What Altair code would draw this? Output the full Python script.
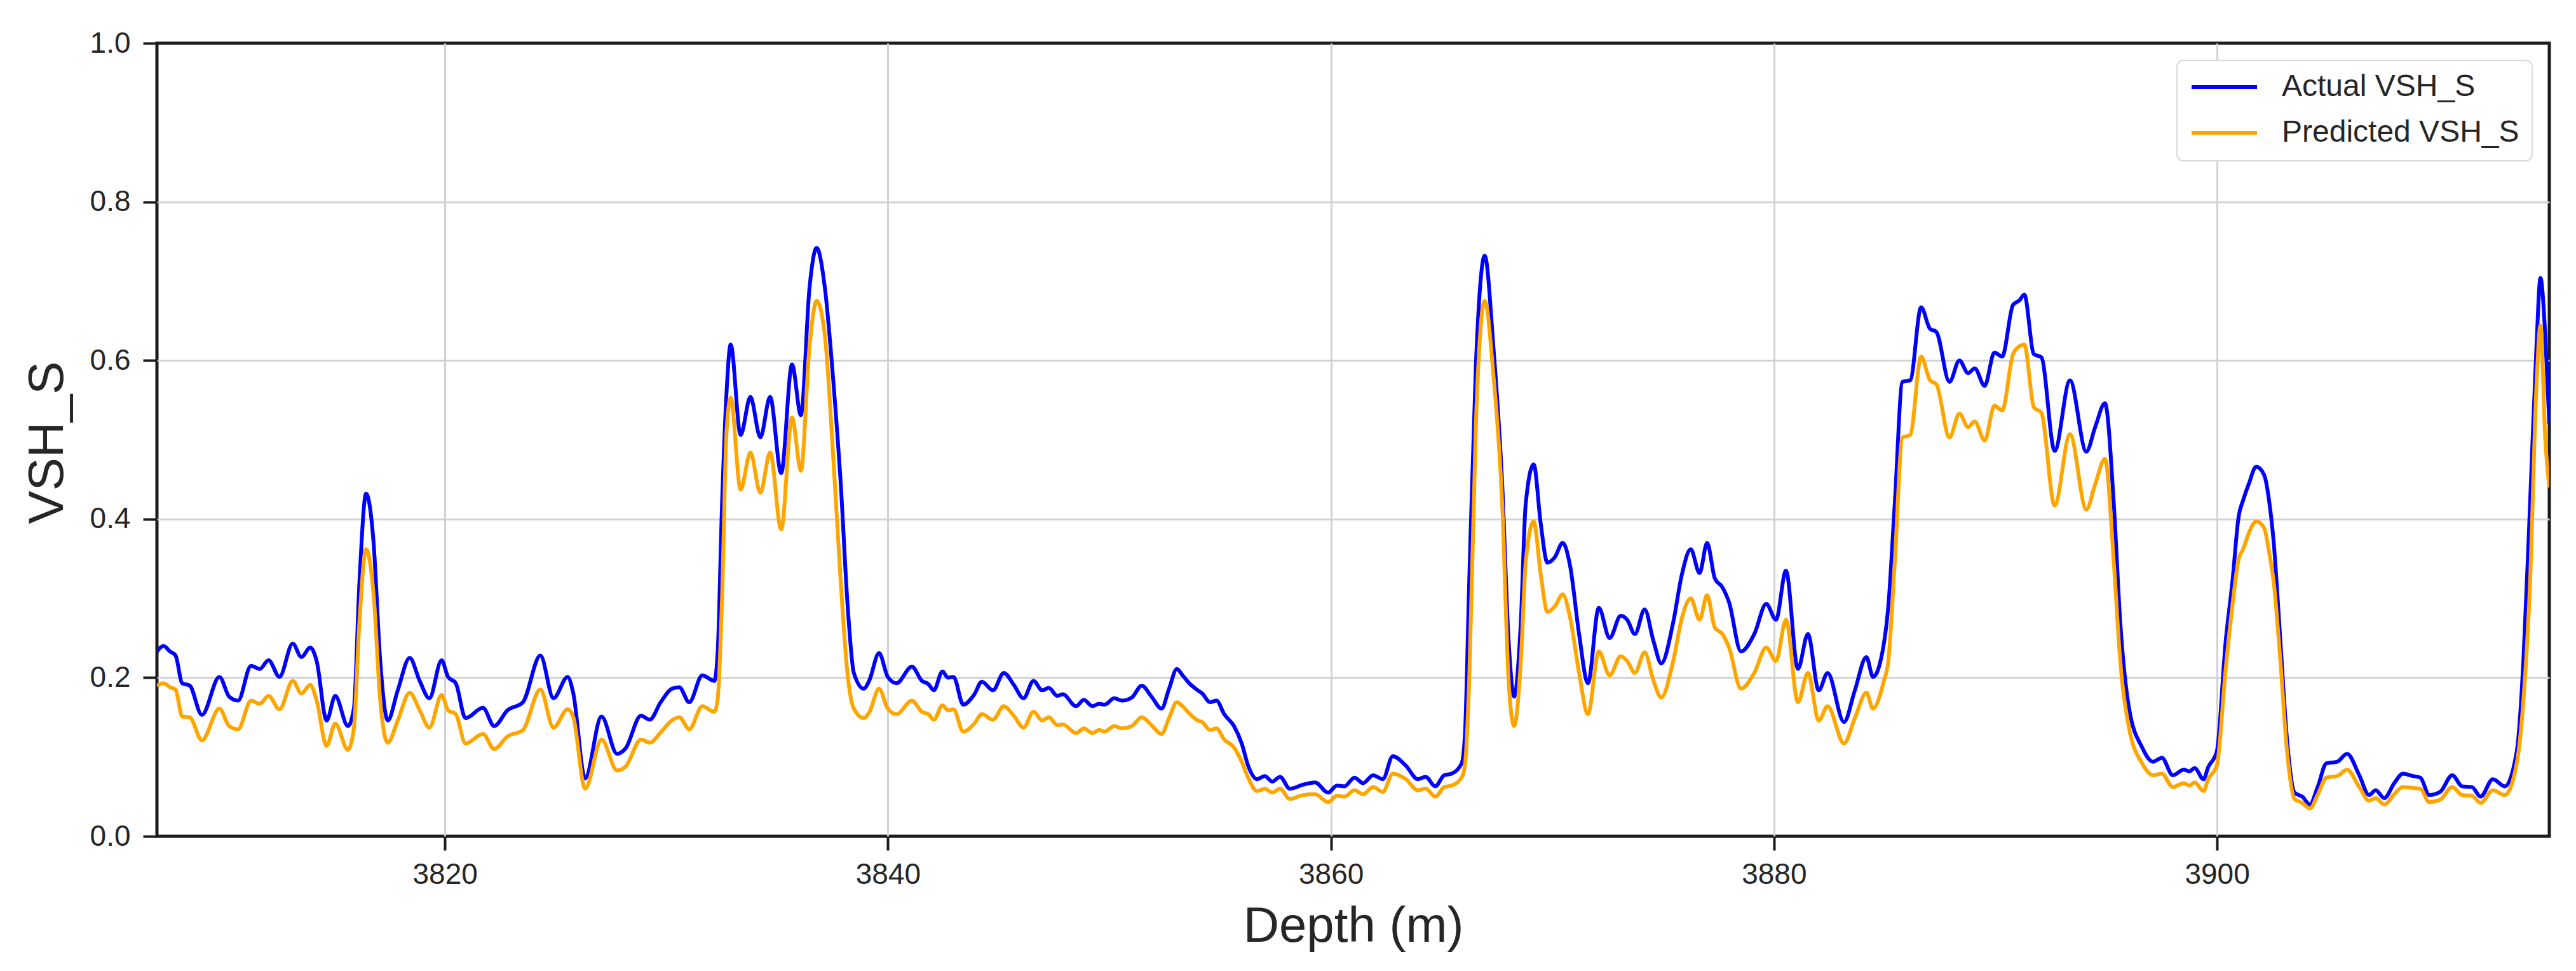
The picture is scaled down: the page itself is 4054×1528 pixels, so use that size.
import altair as alt
import pandas as pd

depth = [
    3807.00, 3807.30, 3807.59, 3807.84, 3808.14, 3808.48, 3809.03, 3809.82, 3810.26, 3810.66,
    3811.25, 3811.64, 3812.04, 3812.53, 3813.13, 3813.52, 3813.92, 3814.21, 3814.66, 3815.05,
    3815.62, 3815.89, 3816.14, 3816.44, 3816.78, 3817.08, 3817.42, 3817.87, 3818.41, 3818.86,
    3819.30, 3819.85, 3820.14, 3820.49, 3820.93, 3821.72, 3822.22,
    3822.83, 3823.52, 3824.31, 3824.90, 3825.54, 3825.79, 3826.33, 3827.07, 3827.77, 3828.16,
    3828.85, 3829.25, 3829.74, 3830.24, 3830.58, 3831.03, 3831.62, 3832.16, 3832.31, 3832.51,
    3832.71, 3832.90, 3833.35, 3833.79, 3834.24, 3834.68, 3835.18, 3835.67, 3836.07, 3836.46,
    3836.78, 3837.15, 3837.55,
    3837.87, 3838.17, 3838.46, 3838.91, 3839.15, 3839.60, 3839.99, 3840.39, 3841.08, 3841.53,
    3841.82, 3842.07, 3842.46, 3842.71, 3842.96, 3843.40, 3843.90, 3844.24, 3844.74, 3845.23,
    3845.68, 3846.12, 3846.57, 3846.96, 3847.26, 3847.65, 3847.90, 3848.49, 3848.84, 3849.23,
    3849.53, 3849.78, 3850.22, 3850.57, 3851.01, 3851.46, 3851.90, 3852.35, 3852.69, 3853.04,
    3853.30, 3853.60, 3853.99, 3854.19, 3854.54, 3854.83, 3855.18, 3855.62, 3855.97, 3856.26,
    3856.66, 3857.01, 3857.35, 3857.70, 3858.14, 3858.73, 3859.28, 3859.87, 3860.27, 3860.61,
    3861.06, 3861.45, 3861.90, 3862.34, 3862.79, 3863.38, 3863.92, 3864.27, 3864.71, 3865.11,
    3865.45, 3865.90, 3866.05, 3866.24, 3866.54, 3866.94, 3867.33, 3867.73, 3868.02, 3868.27,
    3868.57, 3868.79,
    3869.15, 3869.47, 3869.77, 3870.11, 3870.46, 3870.80, 3871.20, 3871.60, 3872.09, 3872.58,
    3873.08, 3873.37, 3873.72, 3874.16, 3874.56, 3874.91, 3875.45, 3875.84, 3876.24, 3876.64,
    3876.98, 3877.33, 3877.67, 3877.97, 3878.51, 3879.11, 3879.65, 3880.09, 3880.54, 3881.08,
    3881.53, 3882.02, 3882.42, 3883.16, 3883.65,
    3884.17, 3884.47, 3884.96, 3885.16, 3885.45, 3885.80, 3886.15, 3886.64, 3887.04, 3887.33,
    3887.92, 3888.37, 3888.76, 3889.06, 3889.51, 3889.95, 3890.30, 3890.79, 3891.09, 3891.30,
    3891.73, 3892.07, 3892.67, 3893.36, 3894.10, 3894.50, 3894.94, 3895.34, 3895.63, 3896.03,
    3896.62, 3897.11, 3897.51, 3898.00, 3898.50, 3898.75, 3898.99, 3899.39,
    3899.60, 3899.99, 3900.39, 3900.69, 3900.98, 3901.18, 3901.43, 3901.77, 3902.12, 3902.37,
    3902.56, 3902.86, 3903.16, 3903.50, 3903.85, 3904.19, 3904.54, 3904.94, 3905.43, 3905.87,
    3906.42, 3906.86, 3907.16, 3907.55, 3908.00, 3908.39, 3908.84, 3909.18, 3909.58, 3910.07,
    3910.62, 3911.06, 3911.51, 3911.90, 3912.45, 3912.99, 3913.53, 3913.83, 3914.13, 3914.42,
    3914.60, 3914.82, 3915.00,
]

actual = [
    0.233, 0.240, 0.233, 0.228, 0.193, 0.190, 0.153, 0.201, 0.176, 0.171,
    0.215, 0.211, 0.222, 0.201, 0.243, 0.226, 0.238, 0.221, 0.146, 0.177,
    0.139, 0.161, 0.320, 0.432, 0.370, 0.221, 0.146, 0.184, 0.225, 0.196,
    0.174, 0.222, 0.201, 0.193, 0.149, 0.162, 0.139,
    0.159, 0.169, 0.228, 0.174, 0.201, 0.181, 0.073, 0.151, 0.104, 0.111,
    0.152, 0.147, 0.169, 0.186, 0.188, 0.169, 0.203, 0.196, 0.230, 0.419,
    0.558, 0.620, 0.506, 0.554, 0.503, 0.554, 0.458, 0.595, 0.531, 0.692,
    0.742, 0.692, 0.568,
    0.444, 0.295, 0.206, 0.186, 0.196, 0.231, 0.201, 0.193, 0.214, 0.196,
    0.192, 0.184, 0.208, 0.200, 0.201, 0.166, 0.179, 0.195, 0.184, 0.206,
    0.191, 0.174, 0.196, 0.184, 0.187, 0.177, 0.179, 0.164, 0.172, 0.164,
    0.167, 0.166, 0.174, 0.171, 0.175, 0.190, 0.176, 0.161, 0.186, 0.211,
    0.203, 0.193, 0.184, 0.180, 0.169, 0.171, 0.154, 0.139, 0.117, 0.089,
    0.072, 0.076, 0.069, 0.075, 0.060, 0.065, 0.068, 0.055, 0.064, 0.063,
    0.074, 0.067, 0.077, 0.072, 0.101, 0.089, 0.072, 0.075, 0.063, 0.077,
    0.079, 0.092, 0.130, 0.320, 0.593, 0.732, 0.618, 0.444, 0.246, 0.176,
    0.270, 0.419,
    0.469, 0.394, 0.345, 0.352, 0.370, 0.340, 0.255, 0.193, 0.288, 0.250,
    0.278, 0.273, 0.255, 0.286, 0.246, 0.218, 0.270, 0.330, 0.362, 0.332,
    0.370, 0.325, 0.314, 0.295, 0.233, 0.255, 0.293, 0.273, 0.335, 0.211,
    0.255, 0.184, 0.206, 0.144, 0.184,
    0.226, 0.201, 0.243, 0.290, 0.419, 0.573, 0.575, 0.667, 0.640, 0.636,
    0.573, 0.600, 0.584, 0.590, 0.568, 0.610, 0.605, 0.670, 0.676, 0.683,
    0.608, 0.604, 0.486, 0.575, 0.485, 0.516, 0.546, 0.419, 0.270, 0.161,
    0.112, 0.094, 0.099, 0.077, 0.084, 0.082, 0.086, 0.072,
    0.087, 0.107, 0.246, 0.320, 0.404, 0.424, 0.444, 0.466, 0.456, 0.419,
    0.370, 0.246, 0.122, 0.055, 0.050, 0.040, 0.062, 0.092, 0.094, 0.104,
    0.077, 0.052, 0.058, 0.048, 0.067, 0.079, 0.076, 0.074, 0.052, 0.056,
    0.077, 0.063, 0.062, 0.050, 0.072, 0.063, 0.107, 0.221, 0.419, 0.618,
    0.704, 0.630, 0.520,
]

predicted = [
    0.190, 0.193, 0.188, 0.185, 0.151, 0.150, 0.121, 0.161, 0.139, 0.135,
    0.171, 0.167, 0.177, 0.160, 0.196, 0.180, 0.191, 0.171, 0.114, 0.142,
    0.109, 0.136, 0.270, 0.362, 0.305, 0.171, 0.118, 0.146, 0.181, 0.159,
    0.137, 0.178, 0.159, 0.154, 0.117, 0.129, 0.110,
    0.126, 0.134, 0.185, 0.137, 0.160, 0.151, 0.060, 0.122, 0.083, 0.088,
    0.122, 0.118, 0.131, 0.146, 0.150, 0.135, 0.164, 0.157, 0.172, 0.300,
    0.508, 0.553, 0.437, 0.484, 0.433, 0.484, 0.387, 0.528, 0.461, 0.618,
    0.675, 0.632, 0.469,
    0.320, 0.206, 0.161, 0.149, 0.156, 0.186, 0.161, 0.154, 0.171, 0.157,
    0.154, 0.147, 0.165, 0.159, 0.160, 0.132, 0.142, 0.154, 0.147, 0.164,
    0.152, 0.137, 0.157, 0.146, 0.150, 0.140, 0.141, 0.130, 0.136, 0.130,
    0.134, 0.132, 0.139, 0.136, 0.139, 0.150, 0.140, 0.129, 0.149, 0.169,
    0.164, 0.155, 0.146, 0.144, 0.134, 0.136, 0.122, 0.112, 0.094, 0.074,
    0.057, 0.060, 0.055, 0.060, 0.047, 0.052, 0.053, 0.043, 0.051, 0.050,
    0.058, 0.053, 0.062, 0.056, 0.079, 0.072, 0.058, 0.060, 0.050, 0.062,
    0.064, 0.074, 0.090, 0.196, 0.518, 0.675, 0.583, 0.419, 0.196, 0.139,
    0.221, 0.345,
    0.397, 0.330, 0.283, 0.290, 0.305, 0.275, 0.206, 0.154, 0.233, 0.203,
    0.227, 0.221, 0.206, 0.232, 0.196, 0.175, 0.221, 0.275, 0.300, 0.273,
    0.304, 0.263, 0.255, 0.238, 0.186, 0.206, 0.238, 0.221, 0.273, 0.169,
    0.206, 0.146, 0.164, 0.117, 0.149,
    0.181, 0.161, 0.196, 0.221, 0.345, 0.503, 0.506, 0.605, 0.575, 0.570,
    0.503, 0.533, 0.516, 0.523, 0.499, 0.543, 0.537, 0.608, 0.618, 0.620,
    0.541, 0.534, 0.417, 0.507, 0.412, 0.444, 0.476, 0.345, 0.221, 0.136,
    0.092, 0.077, 0.079, 0.062, 0.067, 0.064, 0.068, 0.057,
    0.072, 0.089, 0.211, 0.290, 0.350, 0.362, 0.382, 0.397, 0.389, 0.355,
    0.320, 0.221, 0.107, 0.047, 0.042, 0.035, 0.052, 0.074, 0.076, 0.084,
    0.062, 0.045, 0.048, 0.040, 0.053, 0.062, 0.061, 0.060, 0.043, 0.046,
    0.062, 0.052, 0.051, 0.042, 0.058, 0.052, 0.092, 0.171, 0.320, 0.568,
    0.644, 0.500, 0.440,
]

series_names = ["Actual VSH_S", "Predicted VSH_S"]
series_colors = ["#0000ff", "#ffa500"]
x_ticks = [3820, 3840, 3860, 3880, 3900]
y_ticks = [0.0, 0.2, 0.4, 0.6, 0.8, 1.0]

df = pd.concat([
    pd.DataFrame({"depth": depth, "value": actual, "series": series_names[0]}),
    pd.DataFrame({"depth": depth, "value": predicted, "series": series_names[1]}),
])

FONT = "Liberation Sans"
TXT = "#262626"
FRAME = "#1c1c1c"

y_grid_opacity = {"condition": {"test": "datum.value <= 0 || datum.value >= 1", "value": 0}, "value": 1}

x_enc = alt.X(
    "depth:Q",
    scale=alt.Scale(domain=[3807, 3915], nice=False, zero=False),
    axis=alt.Axis(
        title="Depth (m)", values=x_ticks, format="d",
        titleFontSize=78, titleFont=FONT, titleColor=TXT, titleFontWeight="normal",
        titleBaseline="alphabetic", titleY=165,
        labelFontSize=46, labelFont=FONT, labelColor=TXT, labelPadding=16,
        tickSize=22, tickWidth=4, tickColor=FRAME,
        domain=False, grid=True, gridColor="#d2d2d2", gridWidth=3,
    ),
)
y_enc = alt.Y(
    "value:Q",
    scale=alt.Scale(domain=[0, 1], nice=False),
    axis=alt.Axis(
        title="VSH_S", values=y_ticks, format=".1f",
        titleFontSize=78, titleFont=FONT, titleColor=TXT, titleFontWeight="normal",
        titleBaseline="alphabetic", titleX=-149, titleY=628, titleAngle=-90,
        labelFontSize=46, labelFont=FONT, labelColor=TXT, labelPadding=20,
        tickSize=22, tickWidth=4, tickColor=FRAME,
        domain=False, grid=True, gridColor="#d2d2d2", gridWidth=3,
        gridOpacity=y_grid_opacity,
    ),
)
color_enc = alt.Color(
    "series:N",
    scale=alt.Scale(domain=series_names, range=series_colors),
    legend=alt.Legend(
        title=None, orient="top-right", offset=27,
        labelFontSize=48, labelFont=FONT, labelColor=TXT, labelLimit=1000,
        symbolType="stroke", symbolSize=10609, symbolStrokeWidth=6,
        labelOffset=36, clipHeight=44, rowPadding=24, padding=20,
        fillColor="white", strokeColor="#d9d9d9", cornerRadius=10,
    ),
)

base = alt.Chart(df).mark_line(strokeWidth=6, interpolate="monotone", clip=True).encode(
    x=x_enc, y=y_enc, color=color_enc
)

chart = alt.layer(
    base.transform_filter(alt.datum.series == series_names[0]),
    base.transform_filter(alt.datum.series == series_names[1]),
).properties(
    width=3765, height=1248,
    padding={"left": 239, "top": 60, "right": 34, "bottom": 200},
    autosize=alt.AutoSizeParams(type="none"),
    background="white",
).configure_view(
    stroke=FRAME, strokeWidth=5
).configure_legend(
    strokeWidth=2
)

chart.save("out.html", embed_options={"renderer": "svg", "actions": False})
